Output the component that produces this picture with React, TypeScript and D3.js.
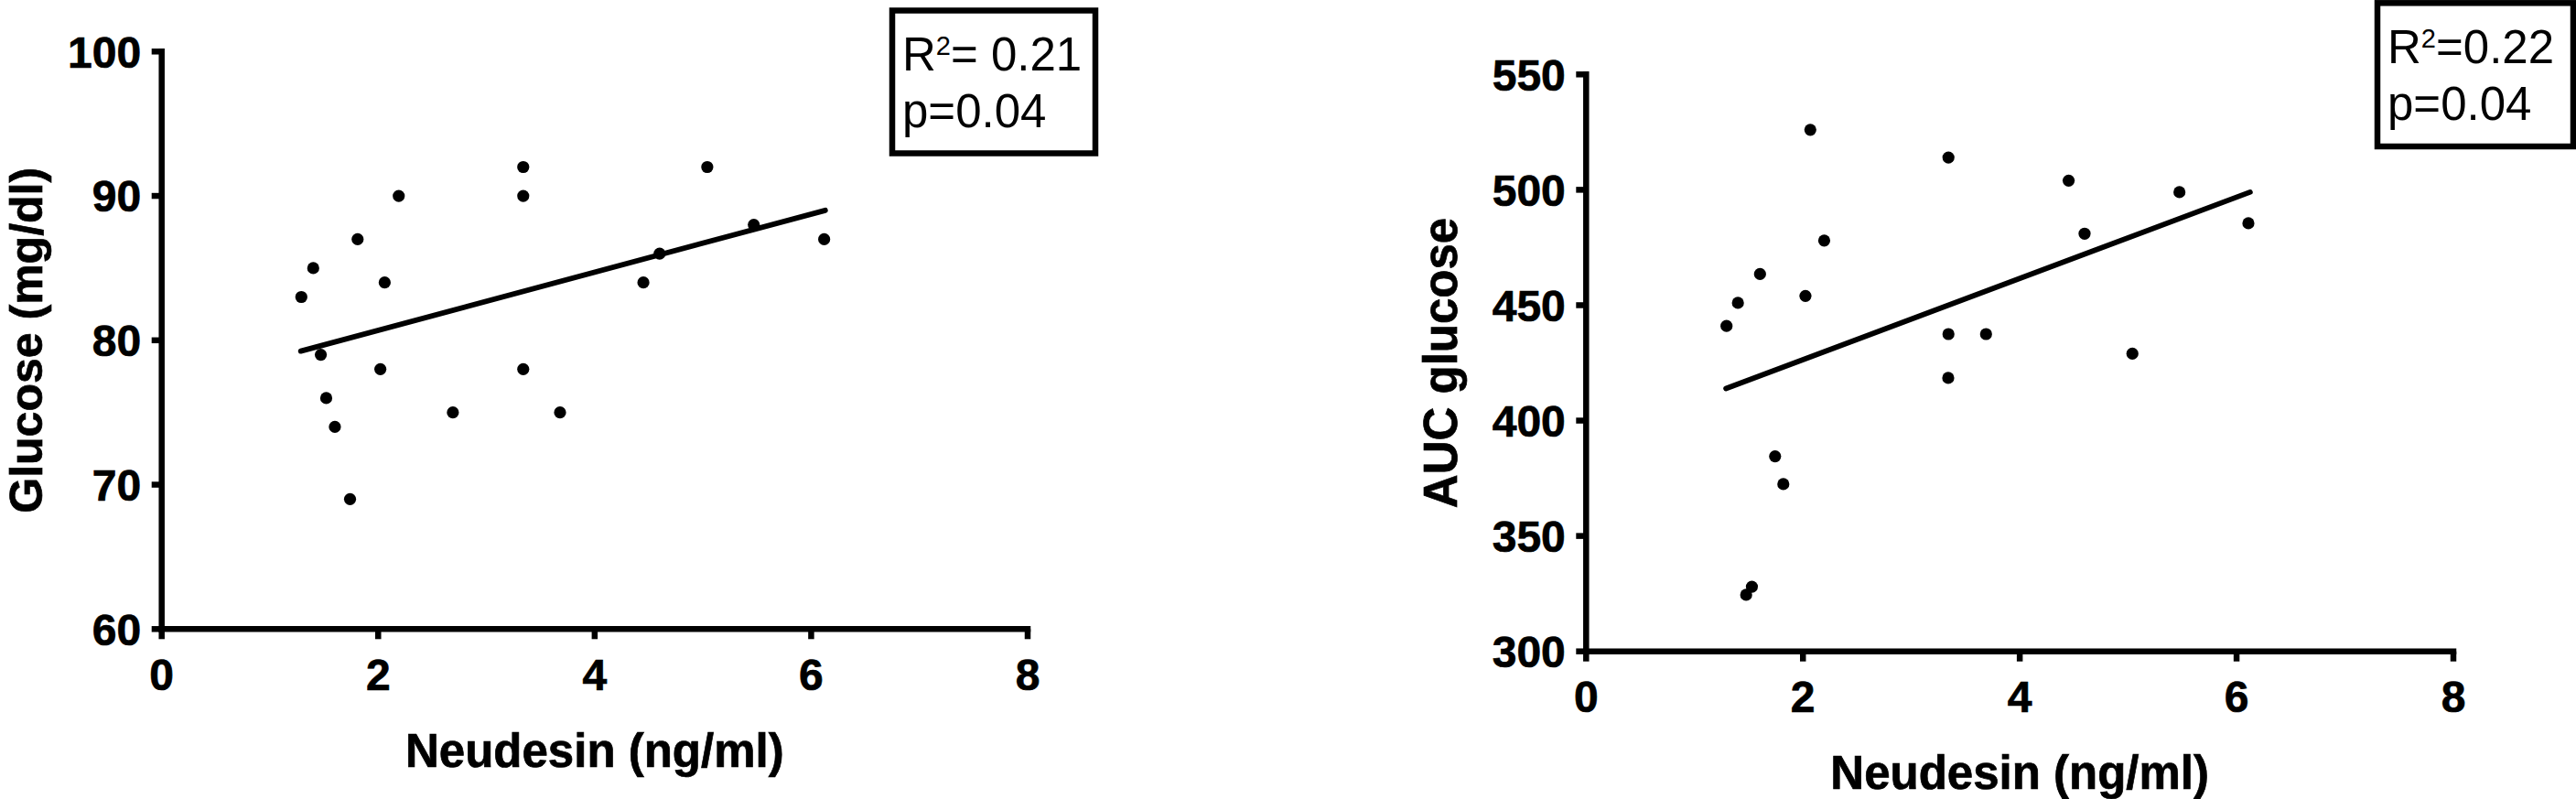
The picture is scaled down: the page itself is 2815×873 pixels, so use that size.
import React from 'react';
import * as d3 from 'd3';

// ---- data ----
const xTicks = [0, 2, 4, 6, 8];
const glucoseTicks = [60, 70, 80, 90, 100];
const aucTicks = [300, 350, 400, 450, 500, 550];

const neudesinA = [1.29, 1.40, 1.47, 1.52, 1.60, 1.74, 1.81, 2.02, 2.06, 2.19, 2.69, 3.34, 3.34, 3.34, 3.68, 4.45, 4.60, 5.04, 5.47, 6.12];
const glucose = [83, 85, 79, 76, 74, 69, 87, 78, 84, 90, 75, 92, 90, 78, 75, 84, 86, 92, 88, 87];

const neudesinB = [1.295, 1.40, 1.476, 1.529, 1.604, 1.743, 1.819, 2.023, 2.068, 2.196, 3.342, 3.342, 3.34, 3.689, 4.451, 4.598, 5.039, 5.473, 6.109];
const aucGlucose = [441, 451, 324.5, 328, 463.5, 384.5, 372.5, 454, 526, 478, 514, 437.5, 418.5, 437.5, 504, 481, 429, 499, 485.5];

const fitXA = [1.285, 6.13];
const fitYA = [79.25, 89.0];
const fitXB = [1.29, 6.125];
const fitYB = [413.9, 499];

const xTitle = 'Neudesin (ng/ml)';
const yTitleA = 'Glucose (mg/dl)';
const yTitleB = 'AUC glucose';
const statsA = { r2: '= 0.21', p: 'p=0.04' };
const statsB = { r2: '=0.22', p: 'p=0.04' };

const FONT = '"Liberation Sans", Arial, Helvetica, sans-serif';

type PanelProps = {
  xs: number[]; ys: number[]; fitX: number[]; fitY: number[];
  yTicks: number[]; yTitle: string; stats: { r2: string; p: string };
  x0: number; x1: number; yB: number; yT: number;
  yTitleX: number; yTitleSize: number; xTitleY: number;
  box: { x: number; y: number; w: number; h: number };
  textX: number; line1: number; line2: number;
};

const boldStyle = { fontFamily: FONT, fontWeight: 'bold' as const, stroke: '#000', strokeWidth: 0.7 };

function Panel(p: PanelProps) {
  const x = d3.scaleLinear().domain([xTicks[0], xTicks[xTicks.length - 1]]).range([p.x0, p.x1]);
  const y = d3.scaleLinear().domain([p.yTicks[0], p.yTicks[p.yTicks.length - 1]]).range([p.yB, p.yT]);
  const line = d3.line<number>().x((d) => x(p.fitX[d])).y((d) => y(p.fitY[d]));
  const sw = 6.5;
  const tl = 11;
  const cx = (p.x0 + p.x1) / 2;
  const cy = (p.yB + p.yT) / 2;
  return (
    <g>
      {/* axes */}
      <line x1={x(xTicks[0])} x2={x(xTicks[xTicks.length - 1])} y1={p.yB} y2={p.yB} stroke="#000" strokeWidth={sw} strokeLinecap="square" />
      <line x1={p.x0} x2={p.x0} y1={p.yB} y2={p.yT} stroke="#000" strokeWidth={sw} strokeLinecap="square" />
      {xTicks.map((t) => (
        <g key={'x' + t}>
          <line x1={x(t)} x2={x(t)} y1={p.yB} y2={p.yB + tl} stroke="#000" strokeWidth={sw} />
          <text x={x(t)} y={p.yB + 66.7} textAnchor="middle" fontSize={48} style={boldStyle}>{t}</text>
        </g>
      ))}
      {p.yTicks.map((t) => (
        <g key={'y' + t}>
          <line x1={p.x0 - tl} x2={p.x0} y1={y(t)} y2={y(t)} stroke="#000" strokeWidth={sw} />
          <text x={p.x0 - 22.5} y={y(t) + 17.2} textAnchor="end" fontSize={48} style={boldStyle}>{t}</text>
        </g>
      ))}
      {/* titles */}
      <text x={cx} y={p.xTitleY} textAnchor="middle" fontSize={51} style={boldStyle}>{xTitle}</text>
      <text transform={`translate(${p.yTitleX},${cy}) rotate(-90)`} textAnchor="middle" fontSize={p.yTitleSize} style={boldStyle}>{p.yTitle}</text>
      {/* points */}
      {p.xs.map((v, i) => (
        <circle key={i} cx={x(v)} cy={y(p.ys[i])} r={6.6} fill="#000" />
      ))}
      {/* regression line */}
      <path d={line(p.fitX.map((_, i) => i)) || ''} stroke="#000" strokeWidth={5.8} fill="none" strokeLinecap="round" />
      {/* stats box */}
      <rect x={p.box.x} y={p.box.y} width={p.box.w} height={p.box.h} fill="#fff" stroke="#000" strokeWidth={sw} />
      <text x={p.textX} y={p.line1} fontFamily={FONT} fontSize={51}>
        R<tspan fontSize={29} dy={-17}>2</tspan><tspan dy={17}>{p.stats.r2}</tspan>
      </text>
      <text x={p.textX} y={p.line2} fontFamily={FONT} fontSize={51}>{p.stats.p}</text>
    </g>
  );
}

export default function App() {
  return (
    <svg width={2815} height={873} viewBox="0 0 2815 873" style={{ position: 'absolute', left: 0, top: 0, background: '#fff' }}>
      <rect x={0} y={0} width={2815} height={873} fill="#fff" />
      <Panel xs={neudesinA} ys={glucose} fitX={fitXA} fitY={fitYA} yTicks={glucoseTicks} yTitle={yTitleA} stats={statsA}
        x0={176.7} x1={1123} yB={687.3} yT={56.3} yTitleX={46} yTitleSize={50} xTitleY={838}
        box={{ x: 975, y: 11.5, w: 222, h: 156 }} textX={986} line1={77} line2={139} />
      <Panel xs={neudesinB} ys={aucGlucose} fitX={fitXB} fitY={fitYB} yTicks={aucTicks} yTitle={yTitleB} stats={statsB}
        x0={1733.3} x1={2681} yB={711.7} yT={81.3} yTitleX={1592} yTitleSize={51} xTitleY={862}
        box={{ x: 2598, y: 3.3, w: 214, h: 156.7 }} textX={2609} line1={68.5} line2={131} />
    </svg>
  );
}
